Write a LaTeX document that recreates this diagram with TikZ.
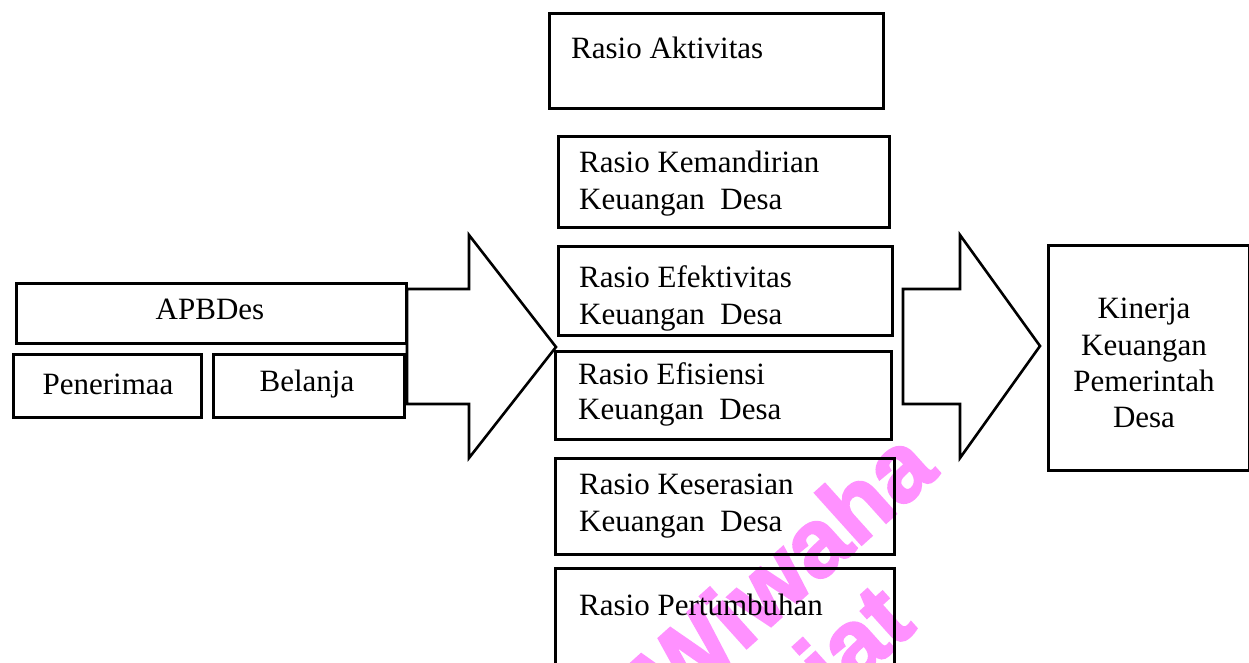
\documentclass[tikz,border=0pt]{standalone}
\usepackage{fontspec}
\setmainfont{Liberation Serif}
\newfontfamily\wmfont[BoldFeatures={FakeBold=2.5}]{Liberation Sans}
\definecolor{wmpink}{RGB}{255,145,255}
\begin{document}
\begin{tikzpicture}[x=1pt,y=-1pt,
  box/.style={draw, line width=2.6pt, inner sep=0pt, anchor=north west},
  txt/.style={inner sep=0pt, font=\fontsize{31}{37}\selectfont},
  bigarrow/.style={draw, line width=2.6pt, line join=miter},
  wm/.style={inner sep=0pt, text=wmpink, font=\wmfont\bfseries\fontsize{96}{96}\selectfont}]
\useasboundingbox (0,0) rectangle (1249,662);
\clip (0,0) rectangle (1249,662);
% watermark
\node[wm, rotate=42, anchor=base east] (wm1) at (940,474) {Widya Wiwaha};
\node[wm, rotate=42, anchor=base east] (wm2) at (918,628) {Jangan Plagiat};
% boxes
\node[box, minimum width=334, minimum height=95] (akt) at (548,12) {};
\node[box, minimum width=331, minimum height=91] (kem) at (557,135) {};
\node[box, minimum width=334, minimum height=89] (efek) at (557,245) {};
\node[box, minimum width=336, minimum height=88] (efis) at (554,350) {};
\node[box, minimum width=339, minimum height=96] (kes) at (554,457) {};
\node[box, minimum width=339, minimum height=140] (pert) at (554,567) {};
\node[box, minimum width=390, minimum height=60] (apb) at (15,282) {};
\node[box, minimum width=188, minimum height=63] (pen) at (12,353) {};
\node[box, minimum width=191, minimum height=63] (bel) at (212,353) {};
\node[box, minimum width=201, minimum height=225] (kin) at (1047,244) {};
% texts
\node[txt, anchor=base west] (takt) at (571,58) {Rasio Aktivitas};
\node[txt, anchor=north west, align=left] (tkem) at (579,151) {Rasio Kemandirian\\Keuangan~~Desa};
\node[txt, anchor=north west, align=left] (tefek) at (579,265) {Rasio Efektivitas\\Keuangan~~Desa};
\node[txt, anchor=north west, align=left, font=\fontsize{31}{35.5}\selectfont] (tefis) at (578,362) {Rasio Efisiensi\\Keuangan~~Desa};
\node[txt, anchor=north west, align=left] (tkes) at (579,474) {Rasio Keserasian\\Keuangan~~Desa};
\node[txt, anchor=base west] (tpert) at (579,615) {Rasio Pertumbuhan};
\node[txt, anchor=base] (tapb) at (210,319) {APBDes};
\node[txt, anchor=base] (tpen) at (108,394) {Penerimaa};
\node[txt, anchor=base] (tbel) at (307,391) {Belanja};
\node[txt, anchor=north, align=center, font=\fontsize{31}{36.3}\selectfont] (tkin) at (1144,298) {Kinerja\\Keuangan\\Pemerintah\\Desa};
% big arrows
\draw[bigarrow] (407,289) -- (469,289) -- (469,235) -- (556,347) -- (469,458) -- (469,404) -- (407,404) -- cycle;
\draw[bigarrow] (903,289) -- (960,289) -- (960,235) -- (1040,346) -- (960,458) -- (960,404) -- (903,404) -- cycle;
\end{tikzpicture}
\end{document}
